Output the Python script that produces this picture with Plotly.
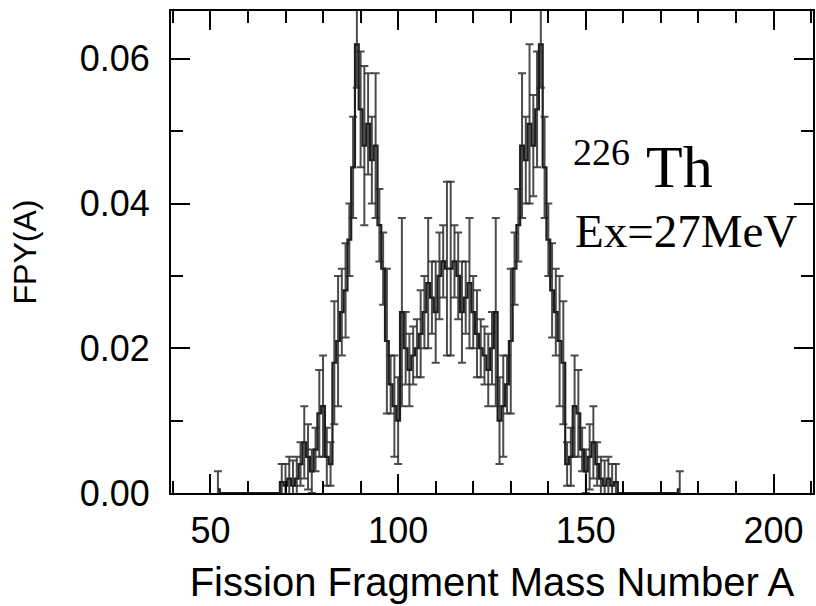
import plotly.graph_objects as go

mass_number = [52] + list(range(53, 69)) + list(range(69, 159)) + list(range(159, 175)) + [175]

fpy = ([0.0005] + [0.0] * 16 + [
    0.0015, 0.0010, 0.0020, 0.0010, 0.0020, 0.0040, 0.0070, 0.0050, 0.0030, 0.0060,   # 69-78
    0.0110, 0.0120, 0.0050, 0.0040, 0.0180, 0.0210, 0.0250, 0.0280, 0.0350, 0.0450,   # 79-88
    0.0620, 0.0530, 0.0480, 0.0510, 0.0460, 0.0480, 0.0370, 0.0310, 0.0210, 0.0150,   # 89-98
    0.0120, 0.0100, 0.0250, 0.0200, 0.0170, 0.0190, 0.0200, 0.0220, 0.0250, 0.0290,   # 99-108
    0.0270, 0.0250, 0.0300, 0.0320, 0.0310, 0.0310, 0.0320, 0.0300, 0.0250, 0.0270,   # 109-118
    0.0290, 0.0250, 0.0220, 0.0200, 0.0190, 0.0170, 0.0200, 0.0250, 0.0100, 0.0120,   # 119-128
    0.0150, 0.0210, 0.0310, 0.0370, 0.0480, 0.0460, 0.0510, 0.0480, 0.0530, 0.0620,   # 129-138
    0.0450, 0.0350, 0.0280, 0.0250, 0.0210, 0.0180, 0.0040, 0.0050, 0.0120, 0.0110,   # 139-148
    0.0060, 0.0030, 0.0050, 0.0070, 0.0040, 0.0020, 0.0010, 0.0020, 0.0010, 0.0015,   # 149-158
] + [0.0] * 16 + [0.0005])

fpy_err = ([0.0025] + [0.0] * 16 + [
    0.0025, 0.0030, 0.0030, 0.0035, 0.0030, 0.0030, 0.0050, 0.0045, 0.0030, 0.0030,
    0.0060, 0.0070, 0.0040, 0.0030, 0.0085, 0.0090, 0.0060, 0.0065, 0.0050, 0.0070,
    0.0060, 0.0080, 0.0110, 0.0070, 0.0060, 0.0100, 0.0050, 0.0050, 0.0100, 0.0040,
    0.0070, 0.0060, 0.0130, 0.0050, 0.0050, 0.0040, 0.0040, 0.0060, 0.0050, 0.0090,
    0.0050, 0.0070, 0.0060, 0.0050, 0.0120, 0.0120, 0.0050, 0.0060, 0.0070, 0.0050,
    0.0090, 0.0050, 0.0060, 0.0040, 0.0040, 0.0050, 0.0050, 0.0130, 0.0060, 0.0070,
    0.0040, 0.0100, 0.0050, 0.0050, 0.0100, 0.0060, 0.0110, 0.0070, 0.0080, 0.0060,
    0.0070, 0.0050, 0.0065, 0.0060, 0.0090, 0.0085, 0.0030, 0.0040, 0.0070, 0.0060,
    0.0030, 0.0030, 0.0045, 0.0050, 0.0030, 0.0030, 0.0035, 0.0030, 0.0030, 0.0025,
] + [0.0] * 16 + [0.0025])

x_title = "Fission Fragment Mass Number A"
y_title = "FPY(A)"
x_range = [39.5, 210.5]
y_range = [0, 0.0666]
x_ticks = [50, 100, 150, 200]
y_ticks = [0.00, 0.02, 0.04, 0.06]
y_ticklabels = ["0.00", "0.02", "0.04", "0.06"]

# only points carrying an error bar get one
err_x = [a for a, e in zip(mass_number, fpy_err) if e > 0]
err_y = [v for v, e in zip(fpy, fpy_err) if e > 0]
err_e = [e for e in fpy_err if e > 0]

fig = go.Figure()
fig.add_trace(go.Scatter(
    x=err_x, y=err_y, mode="markers",
    marker=dict(size=1, color="rgba(0,0,0,0)"),
    error_y=dict(type="data", array=err_e, visible=True,
                 color="rgba(45,45,45,0.85)", thickness=2, width=4),
    showlegend=False, hoverinfo="skip",
))
fig.add_trace(go.Scatter(
    x=mass_number, y=fpy, mode="lines",
    line=dict(shape="hvh", color="#1e1e1e", width=2.2),
    showlegend=False,
))
# carrier trace so the mirrored tick axes (top / right) are drawn
fig.add_trace(go.Scatter(x=[None], y=[None], xaxis="x2", yaxis="y2",
                         showlegend=False, hoverinfo="skip"))

sans = "Liberation Sans, Arial, Helvetica, sans-serif"
serif = "Liberation Serif, Times New Roman, serif"

tick_style = dict(ticks="inside", ticklen=19, tickwidth=2, tickcolor="black")
minor_x = dict(ticks="inside", ticklen=12, tickwidth=2, tickcolor="black", dtick=10, tick0=0)
minor_y = dict(ticks="inside", ticklen=12, tickwidth=2, tickcolor="black", dtick=0.01, tick0=0)

fig.update_layout(
    width=816, height=606,
    margin=dict(l=171, r=3, t=11, b=113),
    plot_bgcolor="white", paper_bgcolor="white",
    xaxis=dict(
        range=x_range, tickvals=x_ticks, automargin=False,
        showline=True, linecolor="black", linewidth=2, mirror=True,
        showgrid=False, zeroline=False, minor=minor_x,
        tickfont=dict(family=sans, size=36, color="black"), ticklabelstandoff=5,
        title=dict(text=x_title, font=dict(family=sans, size=40, color="black"), standoff=18),
        **tick_style,
    ),
    yaxis=dict(
        range=y_range, tickvals=y_ticks, ticktext=y_ticklabels, automargin=False,
        showline=True, linecolor="black", linewidth=2, mirror=True,
        showgrid=False, zeroline=False, minor=minor_y,
        tickfont=dict(family=sans, size=36, color="black"), ticklabelstandoff=12,
        title=dict(text=y_title, font=dict(family=sans, size=32, color="black"), standoff=34),
        **tick_style,
    ),
    xaxis2=dict(
        overlaying="x", side="top", range=x_range, tickvals=x_ticks,
        showticklabels=False, showline=False, showgrid=False, zeroline=False,
        minor=minor_x, automargin=False, **tick_style,
    ),
    yaxis2=dict(
        overlaying="y", side="right", range=y_range, tickvals=y_ticks,
        showticklabels=False, showline=False, showgrid=False, zeroline=False,
        minor=minor_y, automargin=False, **tick_style,
    ),
)

fig.add_annotation(text="226", xref="paper", yref="paper", x=0.623, y=0.707,
                   xanchor="left", yanchor="middle", showarrow=False,
                   font=dict(family=serif, size=38, color="black"))
fig.add_annotation(text="Th", xref="paper", yref="paper", x=0.737, y=0.676,
                   xanchor="left", yanchor="middle", showarrow=False,
                   font=dict(family=serif, size=60, color="black"))
fig.add_annotation(text="Ex=27MeV", xref="paper", yref="paper", x=0.626, y=0.5436,
                   xanchor="left", yanchor="middle", showarrow=False,
                   font=dict(family=serif, size=47, color="black"))

fig.write_html(
    "out.html",
    config={"displayModeBar": False},
    post_script="document.body.style.margin='0px';document.body.style.overflow='hidden';",
)
